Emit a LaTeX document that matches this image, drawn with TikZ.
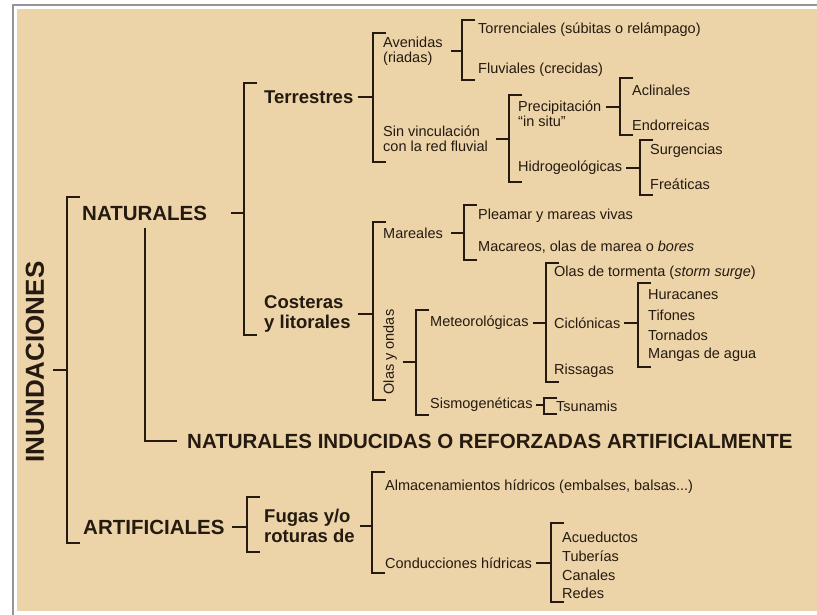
\documentclass[tikz,border=0pt]{standalone}
\usepackage{fontspec}
\setmainfont{Liberation Sans}
\definecolor{papel}{RGB}{236,211,168}
\definecolor{tinta}{RGB}{36,26,16}
\definecolor{marco}{RGB}{150,150,152}
\tikzset{llave/.style={draw=tinta,line width=2.2pt}}
\tikzset{raiz/.style={inner sep=0pt,text=tinta,font=\fontsize{26}{28}\selectfont\bfseries}}
\tikzset{grupo/.style={inner sep=0pt,anchor=west,text=tinta,font=\fontsize{20.5}{22}\selectfont\bfseries}}
\tikzset{rama/.style={inner sep=0pt,anchor=west,align=left,text=tinta,font=\fontsize{18.5}{20}\selectfont\bfseries}}
\tikzset{hoja/.style={inner sep=0pt,anchor=west,align=left,text=tinta,font=\fontsize{14.5}{15}\selectfont}}
% #1 nombre, #2 x de la barra, #3 y arriba, #4 y abajo
\newcommand{\corchete}[4]{%
  \coordinate (#1-a) at (#2+13,#3);
  \coordinate (#1-t) at (#2,#3);
  \coordinate (#1-b) at (#2,#4);
  \coordinate (#1-z) at (#2+13,#4);
  \draw[llave] (#1-a) -- (#1-t) -- (#1-b) -- (#1-z);}

\begin{document}
\begin{tikzpicture}[x=1pt,y=-1pt]
  \useasboundingbox (0,0) rectangle (817,615);
  \fill[white] (0,0) rectangle (817,615);
  \fill[papel] (17,9) rectangle (817,611);
  \draw[marco,line width=2.5pt] (13,615) -- (13,5) -- (817,5);

  \node[raiz,rotate=90] (inund) at (35,362) {INUNDACIONES};
  \node[grupo] (nat) at (82,213) {NATURALES};
  \node[grupo] (ind) at (187,441) {NATURALES INDUCIDAS O REFORZADAS ARTIFICIALMENTE};
  \node[grupo] (art) at (83,527) {ARTIFICIALES};

  \node[rama] (ter) at (264,97) {Terrestres};
  \node[rama] (cos) at (264,314) {Costeras\\y litorales};
  \node[rama] (fug) at (264,526) {Fugas y/o\\roturas de};

  \node[hoja] (ave) at (383,51) {Avenidas\\(riadas)};
  \node[hoja] (sin) at (383,139) {Sin vinculación\\con la red fluvial};
  \node[hoja] (tor) at (478,30) {Torrenciales (súbitas o relámpago)};
  \node[hoja] (flu) at (478,70) {Fluviales (crecidas)};
  \node[hoja] (pre) at (518,114) {Precipitación\\``in situ''};
  \node[hoja] (hid) at (518,168) {Hidrogeológicas};
  \node[hoja] (acl) at (632,90) {Aclinales};
  \node[hoja] (endo) at (632,125) {Endorreicas};
  \node[hoja] (sur) at (650,151) {Surgencias};
  \node[hoja] (fre) at (650,184) {Freáticas};

  \node[hoja] (mar) at (383,233) {Mareales};
  \node[hoja] (ple) at (478,216) {Pleamar y mareas vivas};
  \node[hoja] (mac) at (478,247) {Macareos, olas de marea o \textit{bores}};
  \node[hoja,anchor=center,rotate=90] (olas) at (390,352) {Olas y ondas};
  \node[hoja] (met) at (430,323) {Meteorológicas};
  \node[hoja] (sis) at (430,405) {Sismogenéticas};
  \node[hoja] (otor) at (554,273) {Olas de tormenta (\textit{storm surge})};
  \node[hoja] (cic) at (554,323) {Ciclónicas};
  \node[hoja] (ris) at (554,371) {Rissagas};
  \node[hoja] (hur) at (648,295) {Huracanes};
  \node[hoja] (tif) at (648,315) {Tifones};
  \node[hoja] (trn) at (648,335) {Tornados};
  \node[hoja] (man) at (648,355) {Mangas de agua};
  \node[hoja] (tsu) at (556,406) {Tsunamis};

  \node[hoja] (alm) at (385,487) {Almacenamientos hídricos (embalses, balsas...)};
  \node[hoja] (con) at (385,563) {Conducciones hídricas};
  \node[hoja] (acu) at (562,537) {Acueductos};
  \node[hoja] (tub) at (562,556) {Tuberías};
  \node[hoja] (can) at (562,575) {Canales};
  \node[hoja] (red) at (562,593) {Redes};

  \corchete{b1}{67}{197}{543}
  \corchete{b2}{244}{83}{335}
  \corchete{b3}{247}{497}{552}
  \corchete{b4}{372}{472}{573}
  \corchete{b5}{551}{523}{602}
  \corchete{b6}{373}{33}{162}
  \corchete{b7}{462}{20}{80}
  \corchete{b8}{509}{95}{182}
  \corchete{b9}{620}{78}{135}
  \corchete{b10}{640}{140}{195}
  \corchete{b11}{373}{222}{400}
  \corchete{b12}{464}{205}{260}
  \corchete{b13}{416}{310}{415}
  \corchete{b14}{546}{263}{382}
  \corchete{b15}{638}{283}{367}
  \corchete{b16}{544}{398}{414}

  \coordinate (i-s) at (53,370);
  \draw[llave] (i-s) -- (i-s -| b1-t);
  \draw[llave] ([xshift=24pt]nat.east) -- (nat.east -| b2-t);
  \draw[llave] (nat.south -| 145,0) ++(0,8) -- (ind.west -| 145,0) -- ([xshift=-10pt]ind.west);
  \draw[llave] ([xshift=7pt]art.east) -- (art.east -| b3-t);
  \draw[llave] ([xshift=5pt]fug.east) -- (fug.east -| b4-t);
  \draw[llave] ([xshift=4pt]con.east) -- (con.east -| b5-t);
  \draw[llave] ([xshift=4pt]ter.east) -- (ter.east -| b6-t);
  \draw[llave] ([xshift=8pt]ave.east) -- (ave.east -| b7-t);
  \draw[llave] ([xshift=8pt]sin.east) -- (sin.east -| b8-t);
  \draw[llave] ([xshift=5pt,yshift=7pt]pre.east) -- ([yshift=7pt]pre.east -| b9-t);
  \draw[llave] ([xshift=4pt]hid.east) -- (hid.east -| b10-t);
  \draw[llave] ([xshift=7pt]cos.east) -- (cos.east -| b11-t);
  \draw[llave] ([xshift=8pt]mar.east) -- (mar.east -| b12-t);
  \coordinate (o-s) at ([xshift=6pt,yshift=-10pt]olas.south);
  \draw[llave] (o-s) -- (o-s -| b13-t);
  \draw[llave] ([xshift=4pt]met.east) -- (met.east -| b14-t);
  \draw[llave] ([xshift=4pt]cic.east) -- (cic.east -| b15-t);
  \draw[llave] ([xshift=3pt]sis.east) -- (sis.east -| b16-t);
\end{tikzpicture}
\end{document}
